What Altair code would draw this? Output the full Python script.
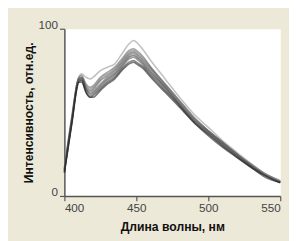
import altair as alt
import pandas as pd

wavelength = [400, 405, 410, 412, 415, 418, 420, 425, 430, 435, 440, 445, 448,
              450, 455, 460, 470, 480, 490, 500, 510, 520, 530, 540, 550]

s1 = [17, 47, 71, 73, 71, 70, 71, 75, 77, 79, 85, 91, 93, 92, 87, 81, 70, 59, 49, 41, 33, 26, 19, 13, 9]
s2 = [16, 46, 71, 72, 67, 65, 66, 71, 74, 77, 82, 87, 88, 87, 83, 77, 67, 57, 47, 39, 32, 25, 19, 13, 9]
s3 = [16, 45, 70, 71, 66, 64, 65, 70, 73, 76, 81, 86, 87, 86, 82, 77, 67, 57, 47, 39, 32, 25, 18, 13, 9]
s4 = [15, 44, 70, 71, 65, 63, 64, 69, 72, 75, 80, 85, 86, 85, 81, 76, 66, 56, 46, 39, 32, 25, 18, 12, 8]
s5 = [16, 45, 70, 70, 64, 62, 63, 67, 71, 74, 79, 84, 85, 84, 80, 75, 65, 55, 46, 38, 31, 24, 18, 12, 8]
s6 = [15, 44, 69, 70, 64, 61, 62, 66, 70, 73, 78, 83, 84, 83, 79, 74, 65, 55, 45, 38, 31, 24, 18, 12, 8]
s7 = [15, 43, 69, 69, 63, 60, 61, 65, 69, 72, 77, 82, 83, 82, 78, 73, 64, 54, 45, 37, 30, 24, 17, 12, 8]
s8 = [14, 43, 68, 69, 62, 59, 60, 64, 68, 71, 76, 80, 81, 80, 77, 72, 63, 54, 44, 37, 30, 23, 17, 12, 8]
s9 = [14, 42, 68, 68, 62, 59, 59, 63, 67, 70, 75, 79, 80, 79, 76, 71, 62, 53, 44, 36, 29, 23, 17, 11, 8]

series = {"s1": s1, "s2": s2, "s3": s3, "s4": s4, "s5": s5,
          "s6": s6, "s7": s7, "s8": s8, "s9": s9}

x_ticks = [400, 450, 500, 550]
y_ticks = [0, 100]

rows = []
for name, vals in series.items():
    for w, v in zip(wavelength, vals):
        rows.append({"series": name, "wl": w, "val": v})
df = pd.DataFrame(rows)

names = list(series.keys())
grays = ["#9a9a9a", "#666666", "#777777", "#555555", "#6a6a6a",
         "#444444", "#5a5a5a", "#333333", "#222222"]

chart = alt.Chart(df).mark_line(strokeWidth=1.6, opacity=0.6, interpolate="monotone").encode(
    x=alt.X("wl:Q", scale=alt.Scale(domain=[400, 550], nice=False),
            axis=alt.Axis(values=x_ticks, title="Длина волны, нм", grid=False,
                          tickSize=5, labelPadding=2, titlePadding=8)),
    y=alt.Y("val:Q", scale=alt.Scale(domain=[0, 100], nice=False),
            axis=alt.Axis(values=y_ticks, title="Интенсивность, отн.ед.", grid=False,
                          tickSize=5, labelPadding=2, labelBaseline="alphabetic",
                          titlePadding=3)),
    color=alt.Color("series:N", scale=alt.Scale(domain=names, range=grays), legend=None),
).properties(
    width=222, height=172,
    autosize=alt.AutoSizeParams(type="none"),
    padding={"left": 58, "top": 18, "right": 9, "bottom": 43},
    background="#ECE9D8",
).configure_view(
    fill="white", stroke="transparent"
).configure_axis(
    domainColor="#555555", domainWidth=1.5, tickColor="#555555", tickWidth=1.2,
    labelFont="Liberation Sans", labelFontSize=12, labelColor="#444444",
    titleFont="Liberation Sans", titleFontSize=12.5, titleFontWeight="bold", titleColor="#111111",
)

chart.save("out.html", embed_options={"renderer": "svg", "actions": False})
